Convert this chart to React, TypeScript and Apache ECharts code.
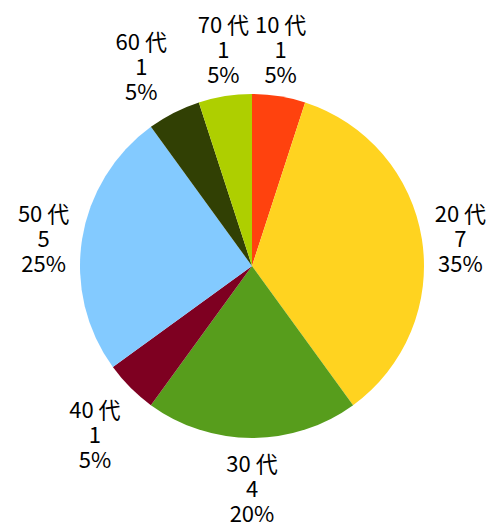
import React, { useEffect, useRef } from "react";
import * as echarts from "echarts";

const categories = ["10 代", "20 代", "30 代", "40 代", "50 代", "60 代", "70 代"];
const counts = [1, 7, 4, 1, 5, 1, 1];
const colors = ["#FF420E", "#FFD320", "#579D1C", "#7E0021", "#83CAFF", "#314004", "#AECF00"];

const CX = 252;
const CY = 266;
const R = 172;
const GAP = 11;

export default function App() {
  const ref = useRef<HTMLDivElement>(null);
  useEffect(() => {
    document.body.style.margin = "0";
    const chart = echarts.init(ref.current!, null, { renderer: "svg" });
    const total = counts.reduce((a, b) => a + b, 0);
    const mids: number[] = [];
    let acc = 0;
    counts.forEach((v) => {
      mids.push(((acc + v / 2) / total) * Math.PI * 2);
      acc += v;
    });
    chart.setOption({
      animation: false,
      backgroundColor: "#ffffff",
      series: [
        {
          type: "pie",
          center: [CX, CY],
          radius: [0, R],
          startAngle: 90,
          clockwise: true,
          avoidLabelOverlap: false,
          silent: true,
          data: categories.map((name, i) => ({
            name,
            value: counts[i],
            itemStyle: { color: colors[i] },
          })),
          itemStyle: { borderWidth: 0 },
          labelLine: { show: false },
          label: {
            show: true,
            position: "outside",
            color: "#000000",
            fontFamily: "'Noto Sans CJK JP', sans-serif",
            fontSize: 22,
            lineHeight: 25,
            align: "center",
            formatter: (p: any) => `${p.name}\n${p.value}\n${p.percent}%`,
          },
          labelLayout: (params: any) => {
            const t = mids[params.dataIndex];
            const s = Math.sin(t);
            const c = Math.cos(t);
            const ax = CX + (R + GAP) * s;
            const ay = CY - (R + GAP) * c;
            const w = params.labelRect.width;
            const h = params.labelRect.height;
            let ox = 0;
            let oy = 0;
            if (s > 0.38) ox = w / 2 + 2;
            else if (s < -0.38) ox = -w / 2 - 2;
            if (c > 0.38) oy = -h / 2;
            else if (c < -0.38) oy = h / 2;
            return { x: ax + ox, y: ay + oy, align: "center", verticalAlign: "middle" };
          },
        },
      ],
    });
    return () => chart.dispose();
  }, []);
  return <div ref={ref} style={{ position: "absolute", left: 0, top: 0, width: 495, height: 527 }} />;
}
